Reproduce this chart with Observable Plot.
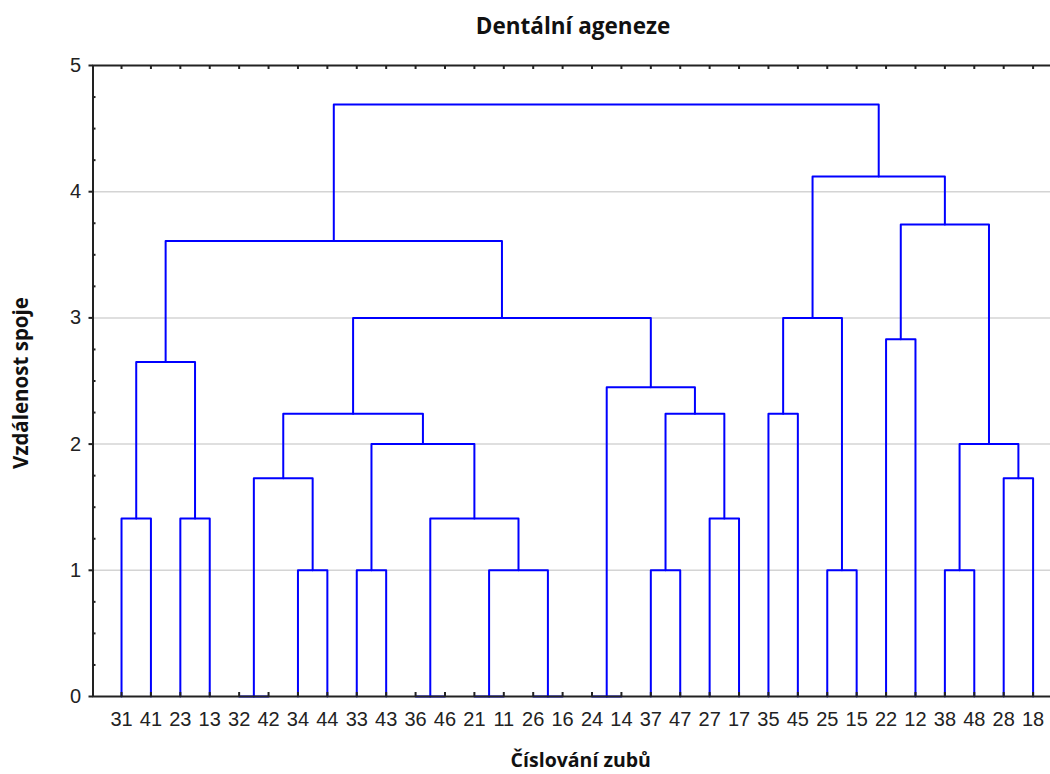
<!DOCTYPE html>
<html>
<head>
<meta charset="utf-8">
<script src="https://cdn.jsdelivr.net/npm/d3@7"></script>
<script src="https://cdn.jsdelivr.net/npm/@observablehq/plot@0.6"></script>
<style>
  html, body { margin: 0; padding: 0; background: #fff; overflow: hidden; width: 1050px; height: 774px; }
  #title { width: 1050px; box-sizing: border-box; padding-left: 96px; padding-top: 15px; height: 50px; text-align: center;
           font-family: "Open Sans", "Noto Sans", sans-serif; font-weight: bold; font-size: 22.5px; line-height: 22.5px; color: #111; }
  svg { overflow: hidden; display: block; }
</style>
</head>
<body>
<div id="title">Dentální ageneze</div>
<div id="chart"></div>
<script>
// leaf order along the x axis (tooth numbers)
const leaves = ["31","41","23","13","32","42","34","44","33","43","36","46","21","11","26","16",
                "24","14","37","47","27","17","35","45","25","15","22","12","38","48","28","18"];

// merges: child A, child B (leaf label or "m<k>" for k-th merge), linkage distance
const mergeA = ["31","23","m0","32","34","m3","33","36","21","26","m8","m7","m6","m5","24","37","27","m15","m14","m13","m2",
                "35","25","m21","22","38","28","m25","m24","m23","m20"];
const mergeB = ["41","13","m1","42","44","m4","43","46","11","16","m9","m10","m11","m12","14","47","17","m16","m17","m18","m19",
                "45","15","m22","12","48","18","m26","m27","m28","m29"];
const mergeHeight = [1.41,1.41,2.65,0,1,1.73,1,0,0,0,1,1.41,2,2.24,0,1,1.41,2.24,2.45,3,3.61,
                     2.24,1,3,2.83,1,1.73,2,3.74,4.12,4.69];

const yTicks = [0,1,2,3,4,5];
const gridValues = [1,2,3,4];
const minorTicks = [0.25,0.5,0.75,1.25,1.5,1.75,2.25,2.5,2.75,3.25,3.5,3.75,4.25,4.5,4.75];

const title = "Dentální ageneze";
const xLabel = "Číslování zubů";
const yLabel = "Vzdálenost spoje";

// build dendrogram segments
const pos = new Map(leaves.map((d, i) => [d, {x: i, h: 0}]));
const segs = [];
mergeA.forEach((a, k) => {
  const A = pos.get(a), B = pos.get(mergeB[k]), h = mergeHeight[k];
  pos.set("m" + k, {x: (A.x + B.x) / 2, h});
  segs.push({k, x: A.x, y: A.h}, {k, x: A.x, y: h}, {k, x: B.x, y: h}, {k, x: B.x, y: B.h});
});
const leafIdx = leaves.map((d, i) => i);

const W = 1050, H = 724;
const mL = 92.5, mR = -12, mT = 15, mB = 78;
const plotW = W - mL - mR, plotH = H - mT - mB;

const chart = Plot.plot({
  width: W, height: H,
  marginLeft: mL, marginRight: mR, marginTop: mT, marginBottom: mB,
  style: {fontFamily: "'Liberation Sans', Arial, sans-serif", fontSize: "20px", color: "#222", background: "#fff"},
  x: {domain: [-0.97, 32.0]},
  y: {domain: [0, 5]},
  marks: [
    Plot.ruleY(gridValues, {stroke: "#d4d4d4", strokeWidth: 1.5}),
    Plot.line(segs, {x: "x", y: "y", z: "k", stroke: "#0000ff", strokeWidth: 2}),
    Plot.frame({stroke: "#222", strokeWidth: 2}),
    // inward ticks on top and bottom at leaf positions
    Plot.ruleX(leafIdx, {x: d => d, insetBottom: plotH - 4, stroke: "#222", strokeWidth: 2}),
    Plot.ruleX(leafIdx, {x: d => d, insetTop: plotH - 4, stroke: "#222", strokeWidth: 2}),
    // minor inward ticks on left axis
    Plot.ruleY(minorTicks, {y: d => d, insetRight: plotW - 3, stroke: "#222", strokeWidth: 2}),
    Plot.axisY({ticks: yTicks, tickSize: 4, tickPadding: 8, tickFormat: d => d, label: null, fontSize: 20, stroke: "#222", strokeWidth: 2}),
    Plot.axisX({ticks: leafIdx, tickFormat: i => leaves[i], tickSize: 0, tickPadding: 15, label: null, fontSize: 20}),
    Plot.text([xLabel], {text: d => d, frameAnchor: "bottom", dx: 3, dy: 70, lineAnchor: "bottom", textAnchor: "middle",
      fontFamily: "'Open Sans', 'Noto Sans', sans-serif", fontWeight: "bold", fontSize: 19.5, fill: "#111"}),
    Plot.text([yLabel], {text: d => d, frameAnchor: "left", dx: -71.5, dy: 2, rotate: -90, lineAnchor: "middle", textAnchor: "middle",
      fontFamily: "'Open Sans', 'Noto Sans', sans-serif", fontWeight: "bold", fontSize: 20.5, fill: "#111"})
  ]
});
document.getElementById("chart").appendChild(chart);
</script>
</body>
</html>
